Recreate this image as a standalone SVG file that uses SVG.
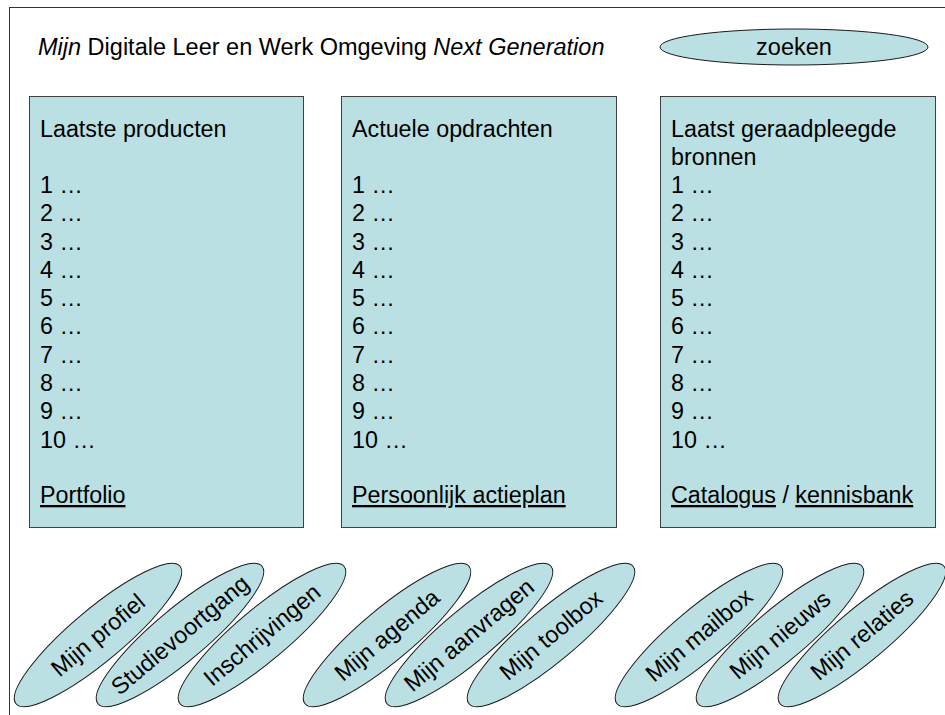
<svg xmlns="http://www.w3.org/2000/svg" width="945" height="715" viewBox="0 0 945 715">
<style>
text{font-family:"Liberation Sans",Arial,sans-serif;fill:#000}
.t{font-size:23.5px}
.b{font-size:23.3px}
.box{fill:#bbe0e3;stroke:#404040;stroke-width:1}
.ov{fill:#bbe0e3;stroke:#1a1a1a;stroke-width:1}
.u{text-decoration:underline}
</style>
<rect x="9.5" y="7.5" width="960" height="740" fill="#fff" stroke="#333" stroke-width="1"/>
<g id="title"><text class="t" x="38" y="55"><tspan font-style="italic">Mijn</tspan> Digitale Leer en Werk Omgeving <tspan font-style="italic">Next Generation</tspan></text></g>
<g id="zoeken"><ellipse class="ov" cx="794" cy="47" rx="134" ry="18"/><text class="t" x="794" y="55" text-anchor="middle">zoeken</text></g>
<g id="box1">
<rect class="box" x="29.5" y="96.5" width="274" height="431"/>
<text class="b" x="40" y="137">Laatste producten</text>
<text class="b" x="40" y="193">1 …</text><text class="b" x="40" y="221">2 …</text><text class="b" x="40" y="249.5">3 …</text><text class="b" x="40" y="278">4 …</text><text class="b" x="40" y="306">5 …</text><text class="b" x="40" y="334">6 …</text><text class="b" x="40" y="362.5">7 …</text><text class="b" x="40" y="391">8 …</text><text class="b" x="40" y="419">9 …</text><text class="b" x="40" y="447.5">10 …</text>
<text class="b u" x="40" y="503">Portfolio</text>
</g>
<g id="box2">
<rect class="box" x="341.5" y="96.5" width="275" height="431"/>
<text class="b" x="352" y="137">Actuele opdrachten</text>
<text class="b" x="352" y="193">1 …</text><text class="b" x="352" y="221">2 …</text><text class="b" x="352" y="249.5">3 …</text><text class="b" x="352" y="278">4 …</text><text class="b" x="352" y="306">5 …</text><text class="b" x="352" y="334">6 …</text><text class="b" x="352" y="362.5">7 …</text><text class="b" x="352" y="391">8 …</text><text class="b" x="352" y="419">9 …</text><text class="b" x="352" y="447.5">10 …</text>
<text class="b u" x="352" y="503">Persoonlijk actieplan</text>
</g>
<g id="box3">
<rect class="box" x="660.5" y="96.5" width="275" height="431"/>
<text class="b" x="671" y="137">Laatst geraadpleegde</text>
<text class="b" x="671" y="165">bronnen</text>
<text class="b" x="671" y="193">1 …</text><text class="b" x="671" y="221">2 …</text><text class="b" x="671" y="249.5">3 …</text><text class="b" x="671" y="278">4 …</text><text class="b" x="671" y="306">5 …</text><text class="b" x="671" y="334">6 …</text><text class="b" x="671" y="362.5">7 …</text><text class="b" x="671" y="391">8 …</text><text class="b" x="671" y="419">9 …</text><text class="b" x="671" y="447.5">10 …</text>
<text class="b" x="671" y="503"><tspan class="u">Catalogus</tspan> / <tspan class="u">kennisbank</tspan></text>
</g>
<g id="mijn-profiel" transform="translate(98,635) rotate(-40)"><ellipse class="ov" rx="107" ry="26"/><text class="t" y="8" text-anchor="middle">Mijn profiel</text></g>
<g id="studievoortgang" transform="translate(180,635) rotate(-40)"><ellipse class="ov" rx="107" ry="26"/><text class="t" y="8" text-anchor="middle">Studievoortgang</text></g>
<g id="inschrijvingen" transform="translate(262,635) rotate(-40)"><ellipse class="ov" rx="107" ry="26"/><text class="t" y="8" text-anchor="middle">Inschrijvingen</text></g>
<g id="mijn-agenda" transform="translate(387,635) rotate(-40)"><ellipse class="ov" rx="107" ry="26"/><text class="t" y="8" text-anchor="middle">Mijn agenda</text></g>
<g id="mijn-aanvragen" transform="translate(469,635) rotate(-40)"><ellipse class="ov" rx="107" ry="26"/><text class="t" y="8" text-anchor="middle">Mijn aanvragen</text></g>
<g id="mijn-toolbox" transform="translate(551,635) rotate(-40)"><ellipse class="ov" rx="107" ry="26"/><text class="t" y="8" text-anchor="middle">Mijn toolbox</text></g>
<g id="mijn-mailbox" transform="translate(699,635) rotate(-40)"><ellipse class="ov" rx="107" ry="26"/><text class="t" y="8" text-anchor="middle">Mijn mailbox</text></g>
<g id="mijn-nieuws" transform="translate(780,635) rotate(-40)"><ellipse class="ov" rx="107" ry="26"/><text class="t" y="8" text-anchor="middle">Mijn nieuws</text></g>
<g id="mijn-relaties" transform="translate(862,635) rotate(-40)"><ellipse class="ov" rx="107" ry="26"/><text class="t" y="8" text-anchor="middle">Mijn relaties</text></g>
<g id="connectors"/>
</svg>
